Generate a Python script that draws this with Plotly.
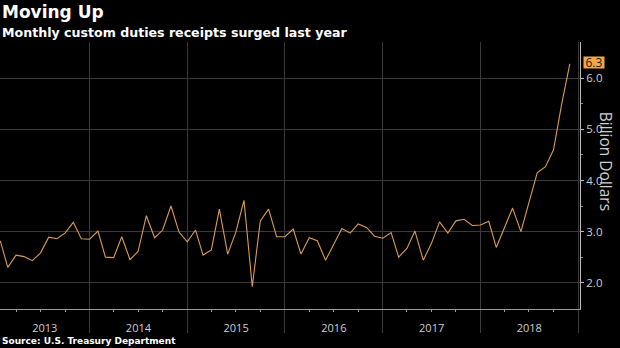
import pandas as pd
import plotly.graph_objects as go

# ---- data (monthly custom duties receipts, billion dollars) ----
months = pd.date_range("2013-02-01", "2018-12-01", freq="MS")
values_2013 = [2.82, 2.30, 2.54, 2.51, 2.43, 2.58, 2.89, 2.86, 2.97, 3.18, 2.86]
values_2014 = [2.85, 3.01, 2.50, 2.49, 2.90, 2.45, 2.61, 3.31, 2.88, 3.03, 3.50, 2.99]
values_2015 = [2.80, 3.03, 2.54, 2.64, 3.44, 2.56, 2.98, 3.61, 1.92, 3.21, 3.44, 2.90]
values_2016 = [2.90, 3.05, 2.56, 2.88, 2.82, 2.44, 2.74, 3.06, 2.97, 3.15, 3.08, 2.91]
values_2017 = [2.87, 2.98, 2.50, 2.67, 3.01, 2.44, 2.76, 3.19, 2.97, 3.21, 3.24, 3.12]
values_2018 = [3.13, 3.20, 2.69, 3.07, 3.46, 3.00, 3.58, 4.15, 4.27, 4.60, 5.51, 6.28]
values = values_2013 + values_2014 + values_2015 + values_2016 + values_2017 + values_2018

year_labels = ["2013", "2014", "2015", "2016", "2017", "2018"]
y_ticks = [2.0, 3.0, 4.0, 5.0, 6.0]

title = "Moving Up"
subtitle = "Monthly custom duties receipts surged last year"
source = "Source: U.S. Treasury Department"
y_title = "Billion Dollars"

# ---- layout helpers ----
x_range = [pd.Timestamp("2013-01-31"), pd.Timestamp("2019-01-08")]
year_bounds = [pd.Timestamp(f"{int(y)+1}-01-01") for y in year_labels]
quarters = pd.date_range("2013-04-01", "2018-10-01", freq="QS")
label_pos = []
for y in year_labels:
    a = max(pd.Timestamp(f"{y}-01-01"), x_range[0])
    b = min(pd.Timestamp(f"{int(y)+1}-01-01"), x_range[1])
    label_pos.append(a + (b - a) / 2)

LINE = "#d89c56"
GRID = "#3a3a3a"
TXT = "#cfcfcf"
FONT = "Open Sans"

fig = go.Figure()
fig.add_trace(go.Scatter(x=months, y=values, mode="lines",
                         line=dict(color=LINE, width=1.1),
                         showlegend=False, hoverinfo="skip"))
# helper trace so the label axis is drawn
fig.add_trace(go.Scatter(x=[months[0]], y=[values[0]], xaxis="x2",
                         mode="markers", marker=dict(opacity=0),
                         showlegend=False, hoverinfo="skip"))

fig.update_layout(
    width=620, height=348,
    paper_bgcolor="black", plot_bgcolor="black",
    margin=dict(l=0, r=40, t=42, b=39),
    font=dict(family=FONT, color=TXT, size=11),
    xaxis=dict(type="date", range=x_range,
               tickmode="array", tickvals=year_bounds,
               showticklabels=False,
               ticks="outside", ticklen=23, tickcolor=GRID, tickwidth=1,
               showgrid=True, gridcolor=GRID, gridwidth=1,
               showline=True, linecolor="#9a9a9a", linewidth=1,
               zeroline=False,
               minor=dict(tickmode="array", tickvals=list(quarters),
                          ticks="outside", ticklen=2, tickcolor="#9a9a9a",
                          showgrid=False)),
    xaxis2=dict(type="date", range=x_range, overlaying="x", side="bottom",
                anchor="y",
                tickmode="array", tickvals=label_pos, ticktext=year_labels,
                ticks="outside", ticklen=9, tickcolor="rgba(0,0,0,0)",
                showgrid=False, showline=False, zeroline=False,
                tickfont=dict(size=11, color=TXT, family=FONT)),
    yaxis=dict(side="right", range=[1.485, 6.71],
               tickmode="array", tickvals=y_ticks, tickformat=".1f",
               ticks="outside", ticklen=3, tickcolor="#bbbbbb",
               showgrid=True, gridcolor=GRID, gridwidth=1,
               showline=True, linecolor="#bbbbbb", linewidth=1,
               zeroline=False,
               tickfont=dict(size=11.5, color=TXT, family=FONT),
               minor=dict(tickmode="array",
                          tickvals=[v + 0.5 for v in y_ticks[:-1]],
                          ticks="outside", ticklen=2, tickcolor="#888888")),
)

fig.add_annotation(text=f"<b>{title}</b>", xref="paper", yref="paper",
                   x=0, y=1, yshift=42, xanchor="left", yanchor="top",
                   showarrow=False, font=dict(size=17, color="white", family="DejaVu Sans"))
fig.add_annotation(text=f"<b>{subtitle}</b>", xref="paper", yref="paper",
                   x=0, y=1, yshift=19, xanchor="left", yanchor="top",
                   showarrow=False, font=dict(size=12.6, color="white", family="DejaVu Sans"))
fig.add_annotation(text=f"<b>{source}</b>", xref="paper", yref="paper",
                   x=0, y=0, yshift=-25, xanchor="left", yanchor="top",
                   showarrow=False, font=dict(size=9, color="white", family="DejaVu Sans"))
fig.add_annotation(text=y_title, xref="paper", yref="paper",
                   x=1, xshift=26, y=0.555, textangle=90,
                   xanchor="center", yanchor="middle", showarrow=False,
                   font=dict(size=15.5, color=TXT, family=FONT))
fig.add_annotation(text=f"{values[-1]:.1f}", xref="paper", yref="y",
                   x=1, xshift=3, y=values[-1], yshift=1.5,
                   xanchor="left", yanchor="middle",
                   showarrow=False, bgcolor="#f5a747", borderpad=0,
                   width=20, height=11, align="center",
                   font=dict(size=12, color="#1a1a1a", family=FONT))

fig.write_html("out.html")
